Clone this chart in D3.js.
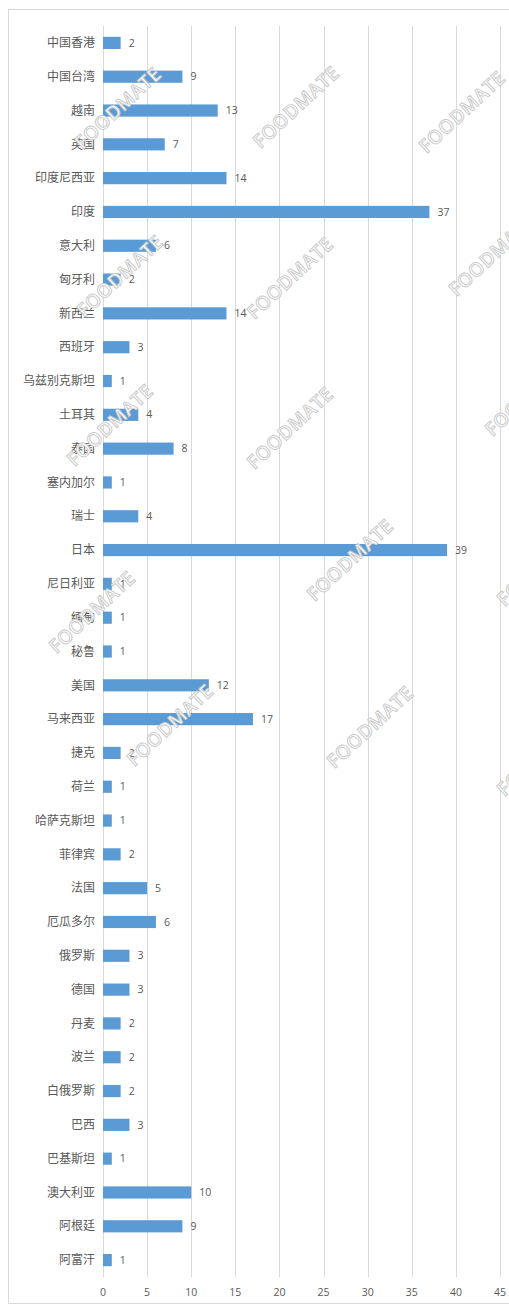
<!DOCTYPE html>
<html lang="zh">
<head>
  <meta charset="utf-8">
  <script src="https://cdn.jsdelivr.net/npm/d3@7"></script>
  <style>
    body { margin: 0; background: #fff; }
    svg { display: block; }
    .cat text { font-family: "Noto Sans CJK SC", sans-serif; font-size: 12px; fill: #595959; }
    .val { font-family: "Open Sans", "DejaVu Sans", sans-serif; font-size: 10.5px; fill: #595959; }
    .xaxis text { font-family: "Open Sans", "DejaVu Sans", sans-serif; font-size: 10.5px; fill: #595959; }
    .grid line { stroke: #d9d9d9; stroke-width: 1; }
    .wm { font-family: "Open Sans", "DejaVu Sans", sans-serif; font-size: 19px; font-weight: 600;
          fill: #fff; stroke: #c8c8c8; stroke-width: 0.9; letter-spacing: 0.5px; }
  </style>
</head>
<body>
<svg id="chart" width="509" height="1306"></svg>
<script>
  var countries = ["中国香港","中国台湾","越南","英国","印度尼西亚","印度","意大利","匈牙利","新西兰","西班牙",
    "乌兹别克斯坦","土耳其","泰国","塞内加尔","瑞士","日本","尼日利亚","缅甸","秘鲁","美国",
    "马来西亚","捷克","荷兰","哈萨克斯坦","菲律宾","法国","厄瓜多尔","俄罗斯","德国","丹麦",
    "波兰","白俄罗斯","巴西","巴基斯坦","澳大利亚","阿根廷","阿富汗"];
  var counts = [2,9,13,7,14,37,6,2,14,3,
    1,4,8,1,4,39,1,1,1,12,
    17,2,1,1,2,5,6,3,3,2,
    2,2,3,1,10,9,1];
  var xTicks = [0,5,10,15,20,25,30,35,40,45];

  // watermark spots (decoration only)
  var marks = [[118,108],[296,107],[462,112],[120,276],[290,278],[492,255],
    [110,425],[290,428],[528,395],[92,612],[350,560],[540,565],[170,725],[370,727],[540,755]];

  var svg = d3.select("#chart");

  svg.append("rect")
      .attr("x", 8.5).attr("y", 9.5)
      .attr("width", 520).attr("height", 1294)
      .attr("fill", "#fff").attr("stroke", "#d9d9d9");

  var x = d3.scaleLinear().domain([0, 45]).range([103, 500]);
  var y = d3.scaleBand().domain(countries).range([26, 1277]).paddingInner(0.64).paddingOuter(0.32);

  svg.append("g")
      .attr("class", "grid")
    .selectAll("line")
      .data(xTicks)
    .enter().append("line")
      .attr("x1", function(d) { return Math.round(x(d)) + 0.5; })
      .attr("x2", function(d) { return Math.round(x(d)) + 0.5; })
      .attr("y1", 26).attr("y2", 1277);

  svg.append("g")
      .attr("class", "xaxis")
    .selectAll("text")
      .data(xTicks)
    .enter().append("text")
      .attr("x", function(d) { return x(d); })
      .attr("y", 1296)
      .attr("text-anchor", "middle")
      .text(function(d) { return d; });

  svg.append("g")
      .attr("class", "cat")
    .selectAll("text")
      .data(countries)
    .enter().append("text")
      .attr("x", 95)
      .attr("y", function(d) { return y(d) + y.bandwidth() / 2; })
      .attr("dy", "0.35em")
      .attr("text-anchor", "end")
      .text(function(d) { return d; });

  svg.append("g")
    .selectAll("rect")
      .data(countries)
    .enter().append("rect")
      .attr("x", x(0))
      .attr("y", function(d) { return y(d); })
      .attr("width", function(d, i) { return x(counts[i]) - x(0); })
      .attr("height", y.bandwidth())
      .attr("fill", "#5b9bd5");

  svg.append("g")
    .selectAll("text")
      .data(countries)
    .enter().append("text")
      .attr("class", "val")
      .attr("x", function(d, i) { return x(counts[i]) + 8; })
      .attr("y", function(d) { return y(d) + y.bandwidth() / 2; })
      .attr("dy", "0.35em")
      .text(function(d, i) { return counts[i]; });

  svg.append("g")
    .selectAll("text")
      .data(marks)
    .enter().append("text")
      .attr("class", "wm")
      .attr("text-anchor", "middle")
      .attr("dy", "0.35em")
      .attr("transform", function(d) { return "translate(" + d[0] + "," + d[1] + ")rotate(-43)"; })
      .text("FOODMATE");
</script>
</body>
</html>
